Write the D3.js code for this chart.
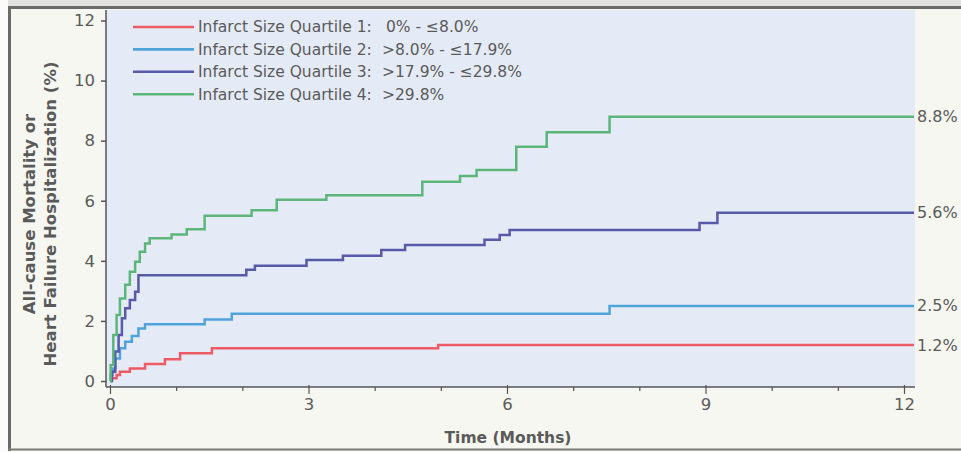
<!DOCTYPE html>
<html>
<head>
<meta charset="utf-8">
<script src="https://cdn.jsdelivr.net/npm/d3@7"></script>
<style>
  html, body { margin: 0; padding: 0; background: #f5f7f0; }
  svg { display: block; }
  text { font-family: "DejaVu Sans", "Liberation Sans", sans-serif; fill: #5a5a5a; }
</style>
</head>
<body>
<svg id="chart" width="961" height="452"></svg>
<script>
// Kaplan-Meier style cumulative event curves: [month, cumulative %] step points
const quartile1 = [[0,0],[0.02,0.09],[0.1,0.2],[0.15,0.31],[0.3,0.42],[0.53,0.57],[0.83,0.72],[1.06,0.92],[1.54,1.09],[4.96,1.2],[12,1.2]];
const quartile2 = [[0,0],[0.01,0.2],[0.04,0.42],[0.08,0.75],[0.15,1.09],[0.23,1.31],[0.33,1.5],[0.43,1.75],[0.53,1.89],[1.43,2.05],[1.84,2.24],[7.55,2.5],[12,2.5]];
const quartile3 = [[0,0],[0.03,0.31],[0.08,0.98],[0.13,1.53],[0.18,2.09],[0.23,2.42],[0.3,2.7],[0.38,2.97],[0.43,3.52],[2.06,3.7],[2.19,3.84],[2.97,4.03],[3.52,4.17],[4.1,4.36],[4.46,4.53],[5.66,4.7],[5.89,4.86],[6.04,5.03],[8.91,5.26],[9.18,5.6],[12,5.6]];
const quartile4 = [[0,0],[0.01,0.53],[0.05,1.53],[0.1,2.2],[0.15,2.75],[0.23,3.2],[0.3,3.64],[0.38,3.97],[0.45,4.3],[0.53,4.58],[0.6,4.75],[0.93,4.88],[1.16,5.05],[1.43,5.5],[2.14,5.68],[2.52,6.03],[3.27,6.18],[4.72,6.63],[5.29,6.82],[5.54,7.02],[6.14,7.8],[6.6,8.28],[7.55,8.8],[12,8.8]];

const seriesNames = ["Infarct Size Quartile 1:", "Infarct Size Quartile 2:", "Infarct Size Quartile 3:", "Infarct Size Quartile 4:"];
const seriesRanges = ["0% - \u22648.0%", ">8.0% - \u226417.9%", ">17.9% - \u226429.8%", ">29.8%"];
const endLabels = ["1.2%", "2.5%", "5.6%", "8.8%"];
const seriesColors = ["#ee5b64", "#4fa3d9", "#5859a7", "#5cb67a"];

const xTicksMajor = [0, 3, 6, 9, 12];
const xTicksAll = [0,1,2,3,4,5,6,7,8,9,10,11,12];
const yTicks = [0, 2, 4, 6, 8, 10, 12];

const svg = d3.select("#chart");

// plot frame geometry
const plot = { left: 106, right: 915, top: 10, bottom: 387 };

const x = d3.scaleLinear().domain([0, 12]).range([110, 904]);
const y = d3.scaleLinear().domain([0, 12]).range([381, 20.5]);

// outer frame
svg.append("rect").attr("x", 0).attr("y", 0).attr("width", 961).attr("height", 6).attr("fill", "#e2e2e0");
svg.append("rect").attr("x", 0).attr("y", 0).attr("width", 8).attr("height", 452).attr("fill", "#fbfbfb");
svg.append("line").attr("x1", 8).attr("x2", 961).attr("y1", 7.5).attr("y2", 7.5).attr("stroke", "#6a6a6a").attr("stroke-width", 3);
svg.append("line").attr("x1", 9.5).attr("x2", 9.5).attr("y1", 6).attr("y2", 451).attr("stroke", "#6a6a6a").attr("stroke-width", 3);
svg.append("line").attr("x1", 8).attr("x2", 961).attr("y1", 449.5).attr("y2", 449.5).attr("stroke", "#7a7a7a").attr("stroke-width", 2);

// plot background
svg.append("rect")
  .attr("x", plot.left).attr("y", plot.top)
  .attr("width", plot.right - plot.left).attr("height", plot.bottom - plot.top)
  .attr("fill", "#e5ebf6");

// y axis
const yAxis = d3.axisLeft(y).tickValues(yTicks).tickSize(5).tickPadding(6);
const gy = svg.append("g").attr("transform", `translate(${plot.left},0)`).call(yAxis);
gy.select(".domain").remove();
gy.selectAll(".tick line").attr("stroke", "#555").attr("stroke-width", 1.5);
gy.selectAll(".tick text").attr("font-size", 16.5).attr("fill", "#5a5a5a").style("font-family", "'DejaVu Sans', sans-serif");
svg.append("line").attr("x1", plot.left).attr("x2", plot.left).attr("y1", plot.top).attr("y2", plot.bottom)
  .attr("stroke", "#555").attr("stroke-width", 1.5);

// x axis: monthly ticks, labels every 3 months
const xAxis = d3.axisBottom(x).tickValues(xTicksAll).tickSize(6).tickPadding(5)
  .tickFormat(d => xTicksMajor.includes(d) ? d : "");
const gx = svg.append("g").attr("transform", `translate(0,${plot.bottom})`).call(xAxis);
gx.select(".domain").remove();
gx.selectAll(".tick line")
  .attr("stroke", "#555").attr("stroke-width", 1.2)
  .attr("y1", d => xTicksMajor.includes(d) ? -2 : 0)
  .attr("y2", d => xTicksMajor.includes(d) ? 7 : 4);
gx.selectAll(".tick text").attr("font-size", 16.5).attr("fill", "#5a5a5a").style("font-family", "'DejaVu Sans', sans-serif");
svg.append("line").attr("x1", plot.left).attr("x2", plot.right).attr("y1", plot.bottom).attr("y2", plot.bottom)
  .attr("stroke", "#555").attr("stroke-width", 1.5);

// axis titles
svg.append("text")
  .attr("x", 508).attr("y", 443)
  .attr("text-anchor", "middle").attr("font-size", 15.5).attr("font-weight", 700)
  .attr("fill", "#646464")
  .text("Time (Months)");

const yTitle = svg.append("text")
  .attr("transform", "translate(0,214) rotate(-90)")
  .attr("text-anchor", "middle").attr("font-size", 16.5).attr("font-weight", 700)
  .attr("fill", "#646464");
yTitle.append("tspan").attr("x", 0).attr("y", 35).text("All-cause Mortality or");
yTitle.append("tspan").attr("x", 0).attr("y", 56).text("Heart Failure Hospitalization (%)");

// curves, held flat out to the plot's right edge
const allSeries = [quartile1, quartile2, quartile3, quartile4];
const xEdge = x.invert(plot.right - 1);
const line = d3.line().curve(d3.curveStepAfter).x(d => x(d[0])).y(d => y(d[1]));

allSeries.forEach((s, i) => {
  const pts = s.concat([[xEdge, s[s.length - 1][1]]]);
  svg.append("path")
    .attr("d", line(pts))
    .attr("fill", "none")
    .attr("stroke", seriesColors[i])
    .attr("stroke-width", 2.5)
    .attr("stroke-linejoin", "miter");

  svg.append("text")
    .attr("x", plot.right + 2)
    .attr("y", y(s[s.length - 1][1]))
    .attr("dy", "0.35em")
    .attr("font-size", 16)
    .text(endLabels[i]);
});

// legend
const legend = svg.append("g");
seriesNames.forEach((name, i) => {
  const ly = 27 + i * 22.4;
  legend.append("line")
    .attr("x1", 133).attr("x2", 194).attr("y1", ly).attr("y2", ly)
    .attr("stroke", seriesColors[i]).attr("stroke-width", 2.6);
  legend.append("text")
    .attr("x", 198).attr("y", ly).attr("dy", "0.35em")
    .attr("font-size", 15.5)
    .text(name);
  legend.append("text")
    .attr("x", i === 0 ? 386 : 382).attr("y", ly).attr("dy", "0.35em")
    .attr("font-size", 15.5)
    .text(seriesRanges[i]);
});
</script>
</body>
</html>
